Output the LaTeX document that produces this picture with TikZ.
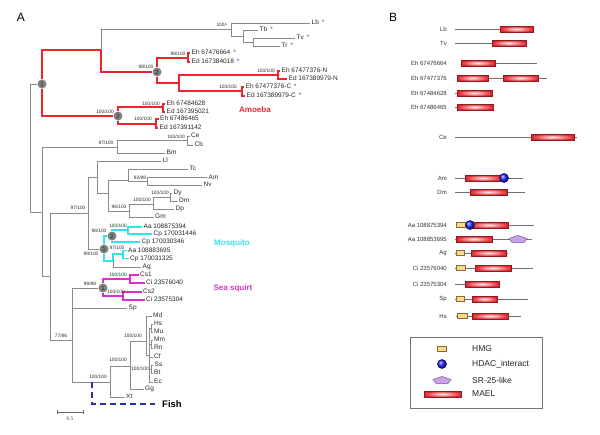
\documentclass[tikz,border=0pt]{standalone}
\usepackage{fontspec}
\setmainfont{Liberation Sans}
\newfontfamily\barfont{Liberation Serif}
\usetikzlibrary{arrows.meta,shapes.geometric}

\definecolor{branchgray}{HTML}{8A8A8A}
\definecolor{amoebared}{HTML}{E8262B}
\definecolor{mosqcyan}{HTML}{33E3EA}
\definecolor{squirtpink}{HTML}{DD2FCB}
\definecolor{fishblue}{HTML}{2B2FA8}
\definecolor{starblue}{HTML}{3344C0}
\definecolor{maelred}{HTML}{E0262E}
\definecolor{maeldark}{HTML}{8E1B1F}
\definecolor{hmgfill}{HTML}{F6DA8E}
\definecolor{hmgdark}{HTML}{8C6B2A}
\definecolor{srfill}{HTML}{C7A4E8}
\definecolor{srdark}{HTML}{7D55A8}
\definecolor{protgray}{HTML}{707070}

\newcommand{\bstar}{\hspace{3pt}\textcolor{starblue}{*}}
\tikzset{srpent/.pic={\draw[sr] (0,-3.5) -- (9,-0.5) -- (6,3.5) -- (-6,3.5) -- (-9,-0.5) -- cycle;}}

\begin{document}
\begin{tikzpicture}[
  x=1pt, y=-1pt,
  br/.style={draw=branchgray, line width=0.8pt},
  amoeba/.style={draw=amoebared, line width=1.8pt},
  mosq/.style={draw=mosqcyan, line width=1.8pt},
  squirt/.style={draw=squirtpink, line width=1.8pt},
  fishline/.style={draw=fishblue, line width=1.6pt, dash pattern=on 6pt off 4pt},
  tip/.style={anchor=west, inner xsep=1.5pt, inner ysep=0pt, text height=4.8pt, text depth=1.2pt, font=\fontsize{6.5}{7}\selectfont, text=black!85},
  boot/.style={inner sep=0pt, font=\fontsize{4.8}{5}\selectfont, text=black!85},
  dot/.style={circle, fill=black!50, minimum size=9pt, inner sep=0pt, font=\fontsize{6}{6}\selectfont, text=black!85},
  clade/.style={font=\bfseries\fontsize{8}{9}\selectfont},
  panel/.style={font=\fontsize{12}{14}\selectfont},
  plabel/.style={anchor=east, inner sep=0pt, font=\fontsize{6}{7}\selectfont, text=black!80},
  prot/.style={draw=protgray, line width=0.6pt},
  mael/.style={draw=maeldark, line width=0.5pt, inner color=red!8, outer color=maelred},
  hmg/.style={draw=hmgdark, line width=0.5pt, fill=hmgfill},
  hdac/.style={circle, draw=blue!40!black, line width=0.5pt, ball color=blue!85, minimum size=9pt, inner sep=0pt},
  sr/.style={draw=srdark, line width=0.5pt, fill=srfill},
  legtext/.style={anchor=west, inner sep=0pt, font=\fontsize{8.5}{10}\selectfont, text=black!85}
]
\useasboundingbox (0,0) rectangle (600,434);

\node[panel] (pA) at (21,17) {A};
\node[panel] (pB) at (393,17) {B};

% tree A: amoeba and kinetoplastids
\coordinate (root) at (30,147);
\node[dot] (cA1) at (42,84) {1};
\coordinate (nLT) at (101,50);
\coordinate (nKin) at (231,29);
\coordinate (nTb) at (243,36);
\coordinate (nTv) at (253,42);
\node[dot] (cA2) at (157,72) {2};
\coordinate (nE1) at (188,58);
\coordinate (nN) at (179,83);
\coordinate (nNN) at (278,75);
\coordinate (nC) at (242,91);
\node[dot] (cA3) at (118,116) {2};
\coordinate (nE3) at (163,107);
\coordinate (nE4) at (156,124);

\node[tip] (tLb) at (310,23) {Lb\bstar};
\node[tip] (tTb) at (258,30) {Tb\bstar};
\node[tip] (tTv) at (295,38) {Tv\bstar};
\node[tip] (tTr) at (280,46) {Tr\bstar};
\node[tip] (tEh1) at (190,53) {Eh 67476664\bstar};
\node[tip] (tEd1) at (190,62) {Ed 167384018\bstar};
\node[tip] (tEhN) at (280,71) {Eh 67477376-N};
\node[tip] (tEdN) at (287,79) {Ed 167389979-N};
\node[tip] (tEhC) at (244,87) {Eh 67477376-C\bstar};
\node[tip] (tEdC) at (245,96) {Ed 167389979-C\bstar};
\node[tip] (tEh3) at (165,104) {Eh 67484628};
\node[tip] (tEd3) at (165,112) {Ed 167395021};
\node[tip] (tEh4) at (158.5,119) {Eh 67486465};
\node[tip] (tEd4) at (158,128) {Ed 167391142};

% tree A: the rest
\coordinate (nR2) at (42,212);
\coordinate (nCB) at (117,147);
\coordinate (nCe) at (187,140);
\coordinate (nBil) at (50,276);
\coordinate (nIns) at (88,213);
\coordinate (nLl) at (97,177);
\coordinate (nB) at (108,193);
\coordinate (nTc) at (128,180);
\coordinate (nAN) at (147,181);
\coordinate (nDr) at (129,211);
\coordinate (nDDD) at (153,204);
\coordinate (nDD) at (170,197);
\node[dot] (cM1) at (104,249) {1};
\node[dot] (cM2) at (112,236) {2};
\coordinate (nAC) at (128,230);
\coordinate (nAg) at (113,261);
\coordinate (nAC2) at (123,254);
\coordinate (nX) at (72,340);
\node[dot] (cS1) at (103,288) {1};
\coordinate (nCs1) at (130,279);
\coordinate (nCs2) at (123,296);
\coordinate (nVert) at (110,382);
\coordinate (fishroot) at (92,382);
\coordinate (nAmn) at (130,366);
\coordinate (nMam) at (146,341);
\coordinate (nEu) at (149,355);
\coordinate (nHM) at (151,328);
\coordinate (nMR) at (151,344);
\coordinate (nSB) at (151,369);

\node[tip] (tCe) at (189.5,136) {Ce};
\node[tip] (tCb) at (193,145) {Cb};
\node[tip] (tBm) at (165,153) {Bm};
\node[tip] (tLl) at (161,161) {Ll};
\node[tip] (tTc) at (188,169) {Tc};
\node[tip] (tAm) at (207,177.5) {Am};
\node[tip] (tNv) at (202,185) {Nv};
\node[tip] (tDy) at (172,193) {Dy};
\node[tip] (tDm) at (177.5,201) {Dm};
\node[tip] (tDp) at (174,209) {Dp};
\node[tip] (tGm) at (153.5,217) {Gm};
\node[tip] (tAa1) at (142,227) {Aa 108875394};
\node[tip] (tCp1) at (152,234) {Cp 170031446};
\node[tip] (tCp2) at (140,242) {Cp 170030346};
\node[tip] (tAa2) at (126.5,250.5) {Aa 108883695};
\node[tip] (tCp3) at (128.5,258.5) {Cp 170031325};
\node[tip] (tAg) at (141,267) {Ag};
\node[tip] (tCs1) at (138.5,275) {Cs1};
\node[tip] (tCi1) at (144.5,283) {Ci 23576040};
\node[tip] (tCs2) at (141.5,292) {Cs2};
\node[tip] (tCi2) at (144.5,300) {Ci 23575304};
\node[tip] (tSp) at (127,308) {Sp};
\node[tip] (tMd) at (151.5,316) {Md};
\node[tip] (tHs) at (152.5,324) {Hs};
\node[tip] (tMu) at (152.5,332) {Mu};
\node[tip] (tMm) at (152.5,340) {Mm};
\node[tip] (tRn) at (152.5,348) {Rn};
\node[tip] (tCf) at (152.5,357) {Cf};
\node[tip] (tSs) at (153,365) {Ss};
\node[tip] (tBt) at (152.5,373) {Bt};
\node[tip] (tEc) at (152.5,382) {Ec};
\node[tip] (tGg) at (143.5,389) {Gg};
\node[tip] (tXt) at (124.5,397) {Xt};
\node[anchor=west, inner xsep=7pt, font=\bfseries\fontsize{9.5}{11}\selectfont] (fish) at (155,404) {Fish};

\draw[br] (root) |- (cA1);
\draw[br] (root) |- (nR2);
\draw[amoeba] (cA1) |- (nLT);
\draw[amoeba] (cA1) |- (cA3);
\draw[br] (nLT) |- (nKin);
\draw[amoeba] (nLT) |- (cA2);
\draw[br] (nKin) |- (tLb);
\draw[br] (nKin) |- (nTb);
\draw[br] (nTb) |- (tTb);
\draw[br] (nTb) |- (nTv);
\draw[br] (nTv) |- (tTv);
\draw[br] (nTv) |- (tTr);
\draw[amoeba] (cA2) |- (nE1);
\draw[amoeba] (cA2) |- (nN);
\draw[amoeba] (nE1) |- (tEh1);
\draw[amoeba] (nE1) |- (tEd1);
\draw[amoeba] (nN) |- (nNN);
\draw[amoeba] (nN) |- (nC);
\draw[amoeba] (nNN) |- (tEhN);
\draw[amoeba] (nNN) |- (tEdN);
\draw[amoeba] (nC) |- (tEhC);
\draw[amoeba] (nC) |- (tEdC);
\draw[amoeba] (cA3) |- (nE3);
\draw[amoeba] (cA3) |- (nE4);
\draw[amoeba] (nE3) |- (tEh3);
\draw[amoeba] (nE3) |- (tEd3);
\draw[amoeba] (nE4) |- (tEh4);
\draw[amoeba] (nE4) |- (tEd4);

\draw[br] (nR2) |- (nCB);
\draw[br] (nR2) |- (nBil);
\draw[br] (nCB) |- (nCe);
\draw[br] (nCB) |- (tBm);
\draw[br] (nCe) |- (tCe);
\draw[br] (nCe) |- (tCb);
\draw[br] (nBil) |- (nIns);
\draw[br] (nBil) |- (nX);
\draw[br] (nIns) |- (nLl);
\draw[br] (nIns) |- (cM1);
\draw[br] (nLl) |- (tLl);
\draw[br] (nLl) |- (nB);
\draw[br] (nB) |- (nTc);
\draw[br] (nB) |- (nDr);
\draw[br] (nTc) |- (tTc);
\draw[br] (nTc) |- (nAN);
\draw[br] (nAN) |- (tAm);
\draw[br] (nAN) |- (tNv);
\draw[br] (nDr) |- (nDDD);
\draw[br] (nDr) |- (tGm);
\draw[br] (nDDD) |- (nDD);
\draw[br] (nDDD) |- (tDp);
\draw[br] (nDD) |- (tDy);
\draw[br] (nDD) |- (tDm);
\draw[mosq] (cM1) |- (cM2);
\draw[mosq] (cM1) |- (nAg);
\draw[mosq] (cM2) |- (nAC);
\draw[mosq] (cM2) |- (tCp2);
\draw[mosq] (nAC) |- (tAa1);
\draw[mosq] (nAC) |- (tCp1);
\draw[mosq] (nAg) |- (nAC2);
\draw[br] (nAg) |- (tAg);
\draw[mosq] (nAC2) |- (tAa2);
\draw[mosq] (nAC2) |- (tCp3);
\draw[br] (nX) |- (cS1);
\draw[br] (nX) |- (tSp);
\draw[br] (nX) |- (nVert);
\draw[squirt] (cS1) |- (nCs1);
\draw[squirt] (cS1) |- (nCs2);
\draw[squirt] (nCs1) |- (tCs1);
\draw[squirt] (nCs1) |- (tCi1);
\draw[squirt] (nCs2) |- (tCs2);
\draw[squirt] (nCs2) |- (tCi2);
\draw[br] (nVert) |- (nAmn);
\draw[br] (nVert) |- (tXt);
\draw[br] (nAmn) |- (nMam);
\draw[br] (nAmn) |- (tGg);
\draw[br] (nMam) |- (tMd);
\draw[br] (nMam) |- (nEu);
\draw[br] (nEu) |- (nHM);
\draw[br] (nEu) |- (nMR);
\draw[br] (nEu) |- (tCf);
\draw[br] (nEu) |- (nSB);
\draw[br] (nEu) |- (tEc);
\draw[br] (nHM) |- (tHs);
\draw[br] (nHM) |- (tMu);
\draw[br] (nMR) |- (tMm);
\draw[br] (nMR) |- (tRn);
\draw[br] (nSB) |- (tSs);
\draw[br] (nSB) |- (tBt);
\draw[fishline] (fishroot) |- (fish);

\node[boot] (s1) at (222,25) {100/-};
\node[boot] (s2) at (146,67) {98/100};
\node[boot] (s3) at (178,54) {98/100};
\node[boot] (s4) at (266,71) {100/100};
\node[boot] (s5) at (228,87) {100/100};
\node[boot] (s6) at (105,112) {100/100};
\node[boot] (s7) at (151,104) {100/100};
\node[boot] (s8) at (143,119) {100/100};
\node[boot] (s9) at (176,137) {100/100};
\node[boot] (s10) at (106,143) {97/100};
\node[boot] (s11) at (78,208) {97/100};
\node[boot] (s12) at (140,178) {92/98};
\node[boot] (s13) at (119,207) {96/100};
\node[boot] (s14) at (142,200) {100/100};
\node[boot] (s15) at (160,193) {100/100};
\node[boot] (s16) at (99,231) {96/100};
\node[boot] (s17) at (118,226) {100/100};
\node[boot] (s18) at (91,254) {99/100};
\node[boot] (s19) at (117,248) {97/100};
\node[boot] (s20) at (90,284) {98/98};
\node[boot] (s21) at (118,275) {100/100};
\node[boot] (s22) at (116,292) {100/100};
\node[boot] (s23) at (61,336) {77/86};
\node[boot] (s24) at (98,377) {100/100};
\node[boot] (s25) at (118,360) {100/100};
\node[boot] (s26) at (133,336) {100/100};
\node[boot] (s27) at (140,369) {100/100};

\node[clade, text=amoebared] (lAmoeba) at (255,110) {Amoeba};
\node[clade, text=mosqcyan] (lMosq) at (232,243) {Mosquito};
\node[clade, text=squirtpink] (lSquirt) at (233,288) {Sea squirt};

\coordinate (sbL) at (57,412);
\coordinate (sbR) at (84,412);
\draw[black!60, line width=0.6pt, {Bar[width=4pt]}-{Bar[width=4pt]}] (sbL) -- (sbR);
\node[font=\barfont\fontsize{5.5}{6}\selectfont, text=black!70] (sbT) at (70,419) {0.5};

% panel B: domain architectures
\node[plabel] (bLb) at (447,29) {Lb};
\draw[prot] (455,29) -- (533,29);
\draw[mael] (500,26) rectangle (533,32);
\node[plabel] (bTv) at (447,43) {Tv};
\draw[prot] (455,43) -- (526,43);
\draw[mael] (492,40) rectangle (526,46);
\node[plabel] (bEh1) at (447,63) {Eh 67476664};
\draw[prot] (461,63) -- (537,63);
\draw[mael] (461,60) rectangle (495,66);
\node[plabel] (bEh2) at (447,78) {Eh 67477376};
\draw[prot] (457,78) -- (547,78);
\draw[mael] (457,75) rectangle (488,81);
\draw[mael] (503,75) rectangle (538,81);
\node[plabel] (bEh3) at (447,93) {Eh 67484628};
\draw[prot] (455,93) -- (492,93);
\draw[mael] (457,90) rectangle (492,96);
\node[plabel] (bEh4) at (447,107) {Eh 67486465};
\draw[prot] (455,107) -- (493,107);
\draw[mael] (457,104) rectangle (493,110);
\node[plabel] (bCe) at (447,137) {Ce};
\draw[prot] (455,137) -- (577,137);
\draw[mael] (531,134) rectangle (574,140);
\node[plabel] (bAm) at (447,178) {Am};
\draw[prot] (455,178) -- (523,178);
\draw[mael] (465,175) rectangle (501,181);
\node[hdac] (hAm) at (504,178) {};
\node[plabel] (bDm) at (447,192) {Dm};
\draw[prot] (455,192) -- (525,192);
\draw[mael] (470,189) rectangle (507,195);
\node[plabel] (bAa1) at (447,225) {Aa 108875394};
\draw[prot] (456,225) -- (534,225);
\draw[hmg] (456,222.5) rectangle (465,227.5);
\draw[mael] (470,222) rectangle (508,228);
\node[hdac] (hAa1) at (470,225) {};
\node[plabel] (bAa2) at (447,239) {Aa 108853695};
\draw[prot] (455,239) -- (532,239);
\draw[mael] (456,236) rectangle (492,242);
\pic at (518,239) {srpent};
\node[plabel] (bAg) at (447,253) {Ag};
\draw[prot] (455,253) -- (508,253);
\draw[hmg] (456,250.5) rectangle (464,255.5);
\draw[mael] (471,250) rectangle (506,256);
\node[plabel] (bCi1) at (447,268) {Ci 23576040};
\draw[prot] (455,268) -- (533,268);
\draw[hmg] (456,265.5) rectangle (465,270.5);
\draw[mael] (475,265) rectangle (511,271);
\node[plabel] (bCi2) at (447,284) {Ci 23575304};
\draw[prot] (455,284) -- (499,284);
\draw[mael] (465,281) rectangle (499,287);
\node[plabel] (bSp) at (447,299) {Sp};
\draw[prot] (455,299) -- (528,299);
\draw[hmg] (456,296.5) rectangle (464,301.5);
\draw[mael] (472,296) rectangle (497,302);
\node[plabel] (bHs) at (447,316) {Hs};
\draw[prot] (456,316) -- (521,316);
\draw[hmg] (457,313.5) rectangle (467,318.5);
\draw[mael] (472,313) rectangle (508,319);

% legend
\draw[black!55, line width=0.6pt] (410,337) rectangle (542,408);
\draw[hmg] (437.5,346.5) rectangle (446.5,351.5);
\node[hdac] (lgDot) at (442,364) {};
\pic at (442,380) {srpent};
\draw[mael] (424,391) rectangle (461,397);
\node[legtext] (lgHMG) at (472,349) {HMG};
\node[legtext] (lgHDAC) at (472,364) {HDAC\_interact};
\node[legtext] (lgSR) at (472,380) {SR-25-like};
\node[legtext] (lgMAEL) at (472,394) {MAEL};
\end{tikzpicture}
\end{document}
